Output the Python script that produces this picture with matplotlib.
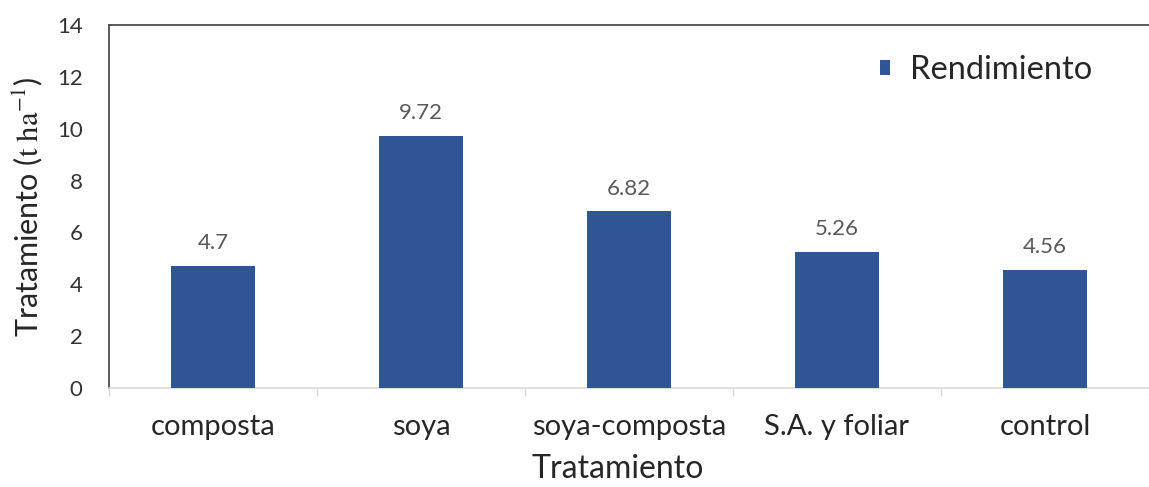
import numpy as np
import matplotlib.pyplot as plt

# data
tratamientos = ["composta", "soya", "soya-composta", "S.A. y foliar", "control"]
rendimiento = [4.7, 9.72, 6.82, 5.26, 4.56]

plt.rcParams['font.family'] = ['Lato', 'DejaVu Sans']
plt.rcParams['mathtext.fontset'] = 'stix'

fig = plt.figure(figsize=(11.49, 4.87), dpi=100)
ax = fig.add_axes([109/1149, 1-388/487, 1-109/1149, (388-25)/487])

x = np.arange(len(tratamientos))
ax.bar(x, rendimiento, width=0.4, color='#2F5597', label='Rendimiento', zorder=3)

for xi, v in zip(x, rendimiento):
    ax.annotate(f"{v:g}", (xi, v), xytext=(0, 12), textcoords='offset points',
                ha='center', va='baseline', fontsize=16, color='#595959')

ax.set_xlim(-0.5, 4.5 - 9/210)
ax.set_ylim(0, 14)
ax.set_yticks(range(0, 15, 2))
ax.tick_params(axis='y', length=0, pad=19, labelsize=16, labelcolor='#333333')

ax.set_xticks(x)
ax.set_xticklabels(tratamientos)
ax.tick_params(axis='x', which='major', length=0, pad=19, labelsize=21, labelcolor='#262626')
ax.set_xticks(np.arange(-0.5, 4.6, 1), minor=True)
ax.tick_params(axis='x', which='minor', length=6, color='#D9D9D9', width=1)

ax.spines['right'].set_visible(False)
ax.spines['top'].set_color('#404040')
ax.spines['left'].set_color('#404040')
ax.spines['bottom'].set_color('#D9D9D9')
for s in ['top', 'left', 'bottom']:
    ax.spines[s].set_linewidth(1.2)

ax.set_xlabel("Tratamiento", fontsize=23, color='#262626')
ax.xaxis.set_label_coords(0.489, -0.183)
ax.set_ylabel("Tratamiento (" + r"$\mathrm{t\ ha^{-1}}$" + ")", fontsize=22, color='#262626')
ax.yaxis.set_label_coords(-0.062, 0.5)

leg = ax.legend(loc='center left', bbox_to_anchor=(880/1149, 1-70/487), bbox_transform=fig.transFigure,
                frameon=False, fontsize=23.5, borderpad=0, borderaxespad=0,
                handlelength=0.31, handleheight=0.31, handletextpad=0.6)
for t in leg.get_texts():
    t.set_color('#262626')

fig.savefig("out.png", dpi=100)
